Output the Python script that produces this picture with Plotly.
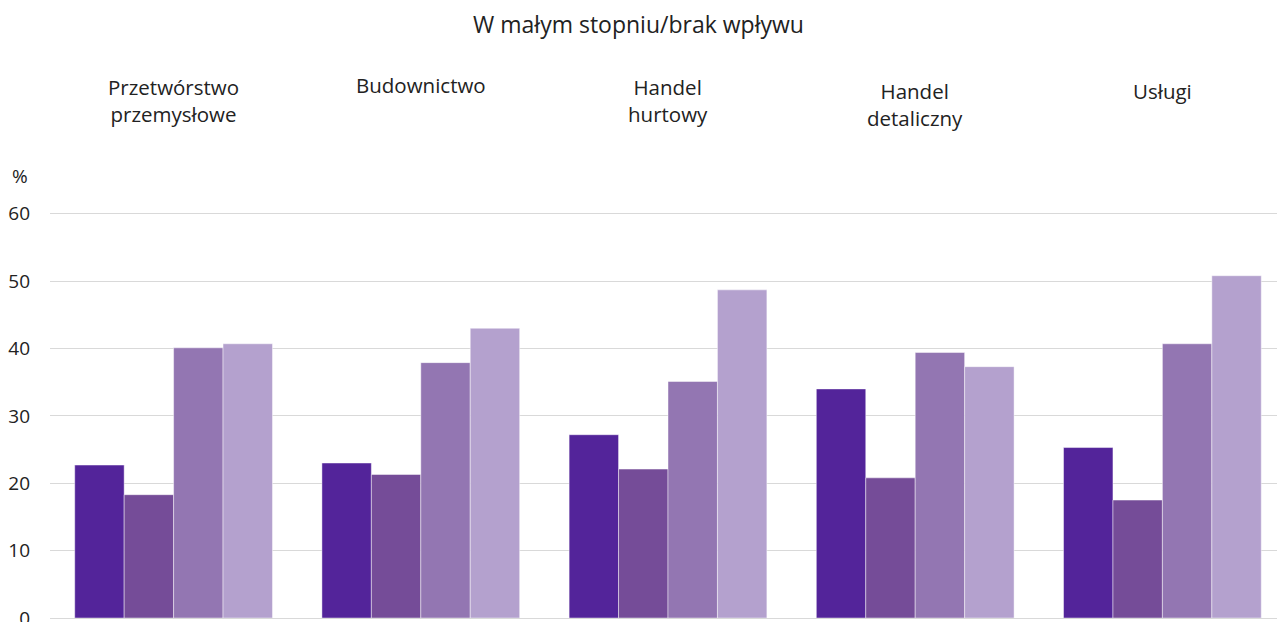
import plotly.graph_objects as go

categories = ["Przetwórstwo<br>przemysłowe", "Budownictwo", "Handel<br>hurtowy", "Handel<br>detaliczny", "Usługi"]
cat_keys = ["P", "B", "HH", "HD", "U"]
series_1 = [22.7, 23.0, 27.2, 34.0, 25.3]
series_2 = [18.3, 21.3, 22.1, 20.8, 17.5]
series_3 = [40.1, 37.9, 35.1, 39.4, 40.7]
series_4 = [40.7, 43.0, 48.7, 37.3, 50.8]
colors = ["#53249A", "#754C98", "#9376B2", "#B4A1CE"]
y_ticks = [0, 10, 20, 30, 40, 50, 60]

title_text = "W małym stopniu/brak wpływu"
# label vertical positions (pixels from top)
label_y_px = [100.5, 85, 100.5, 104.5, 91]

W, H = 1277, 622
mt, mb, ml, mr = 207, 4, 50, 0
ph = H - mt - mb

font_family = "Open Sans, Noto Sans, sans-serif"

fig = go.Figure()
for vals, col in zip([series_1, series_2, series_3, series_4], colors):
    fig.add_trace(go.Bar(
        x=cat_keys, y=vals,
        marker=dict(color=col, line=dict(color="rgba(255,255,255,0.45)", width=1)),
        showlegend=False, hoverinfo="y",
    ))

annotations = []
for key, lab, ypx in zip(cat_keys, categories, label_y_px):
    annotations.append(dict(
        x=key, xref="x", y=(H - mb - ypx) / ph, yref="paper",
        text=lab, showarrow=False, xanchor="center", yanchor="middle",
        font=dict(size=20.5, color="#222222", family=font_family),
    ))
annotations.append(dict(
    x=(20 - ml) / (W - ml - mr), xref="paper", y=(H - mb - 176) / ph, yref="paper",
    xanchor="center", yanchor="middle", text="%", showarrow=False,
    font=dict(size=19, color="#222222", family=font_family),
))

fig.update_layout(
    width=W, height=H,
    margin=dict(l=ml, r=mr, t=mt, b=mb, autoexpand=False),
    plot_bgcolor="white", paper_bgcolor="white",
    barmode="group", bargap=0.2, bargroupgap=0.0,
    title=dict(text=title_text, x=0.5, xanchor="center", y=1 - 25 / H, yanchor="middle",
               font=dict(size=23, color="#222222", family=font_family)),
    annotations=annotations,
    font=dict(family=font_family, color="#222222"),
)
fig.update_xaxes(range=[-0.5, -0.5 + (W - ml - mr) / 247.2], showticklabels=False,
                 showgrid=False, zeroline=False, showline=False, ticks="", automargin=False)
fig.update_yaxes(range=[0, 61], tickvals=y_ticks, showgrid=True, gridcolor="#D9D9D9",
                 gridwidth=1, zeroline=True, zerolinecolor="#D9D9D9", zerolinewidth=1,
                 ticks="", ticklabelstandoff=19, ticklabeloverflow="allow", automargin=False,
                 tickfont=dict(size=19, color="#222222", family=font_family))

fig.write_html("out.html", config={"displayModeBar": False},
               post_script="document.body.style.margin='0';document.body.style.overflow='hidden';")
